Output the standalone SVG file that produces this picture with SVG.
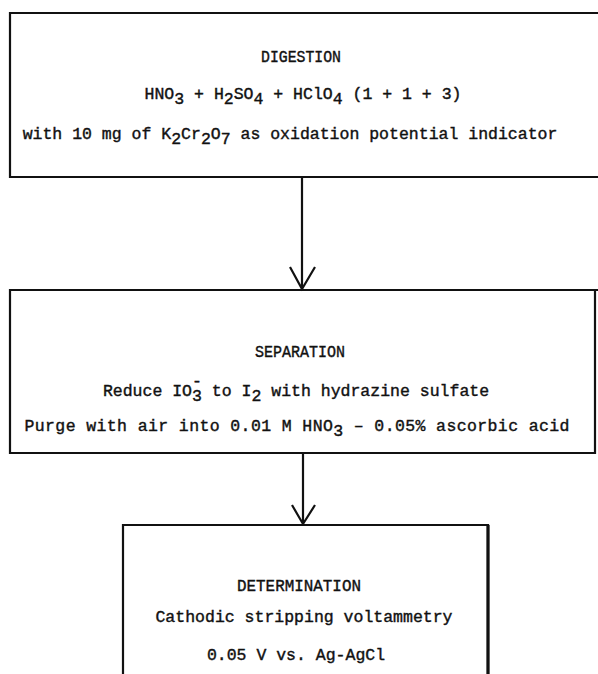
<svg xmlns="http://www.w3.org/2000/svg" width="598" height="674" viewBox="0 0 598 674">
<style>
.box{fill:none;stroke:#111;stroke-width:2.2}
.t{font-family:"Liberation Mono","Courier New",monospace;font-size:16.5px;fill:#111;text-anchor:middle;stroke:#111;stroke-width:0.4}
.c{stroke:#111;stroke-width:2.2;fill:none}
</style>
<rect width="598" height="674" fill="#fff"/>
<g id="digestion">
<path class="box" d="M602 13 H10 V177 H602"/>
<text class="t" x="301" y="62" textLength="80" lengthAdjust="spacingAndGlyphs">DIGESTION</text>
<text class="t" x="303" y="99">HNO<tspan dy="5">3</tspan><tspan dy="-5"> + H</tspan><tspan dy="5">2</tspan><tspan dy="-5">SO</tspan><tspan dy="5">4</tspan><tspan dy="-5"> + HClO</tspan><tspan dy="5">4</tspan><tspan dy="-5"> (1 + 1 + 3)</tspan></text>
<text class="t" x="290" y="139">with 10 mg of K<tspan dy="5">2</tspan><tspan dy="-5">Cr</tspan><tspan dy="5">2</tspan><tspan dy="-5">O</tspan><tspan dy="5">7</tspan><tspan dy="-5"> as oxidation potential indicator</tspan></text>
</g>
<g id="separation">
<path class="box" d="M602 290 H10 V453 H595 V290"/>
<text class="t" x="300" y="357" textLength="90" lengthAdjust="spacingAndGlyphs">SEPARATION</text>
<text class="t" x="296" y="396">Reduce IO<tspan dy="5">3</tspan><tspan dx="-9.9" dy="-15">-</tspan><tspan dy="10"> to I</tspan><tspan dy="5">2</tspan><tspan dy="-5"> with hydrazine sulfate</tspan></text>
<text class="t" x="297" y="431" textLength="545" lengthAdjust="spacing">Purge with air into 0.01 M HNO<tspan dy="5">3</tspan><tspan dy="-5"> – 0.05% ascorbic acid</tspan></text>
</g>
<g id="determination">
<path class="box" d="M123 676 V525 H488 V676"/>
<path d="M488 525 V676" stroke="#111" stroke-width="3.2"/>
<text class="t" x="299" y="591" textLength="124" lengthAdjust="spacingAndGlyphs">DETERMINATION</text>
<text class="t" x="304" y="622">Cathodic stripping voltammetry</text>
<text class="t" x="296" y="660">0.05 V vs. Ag-AgCl</text>
</g>
<g id="connectors">
<path class="c" d="M302 177 V289 M290 267 L302 289 L315 267"/>
<path class="c" d="M303 453 V524 M292 505 L303 524 L315 505"/>
</g>
</svg>
